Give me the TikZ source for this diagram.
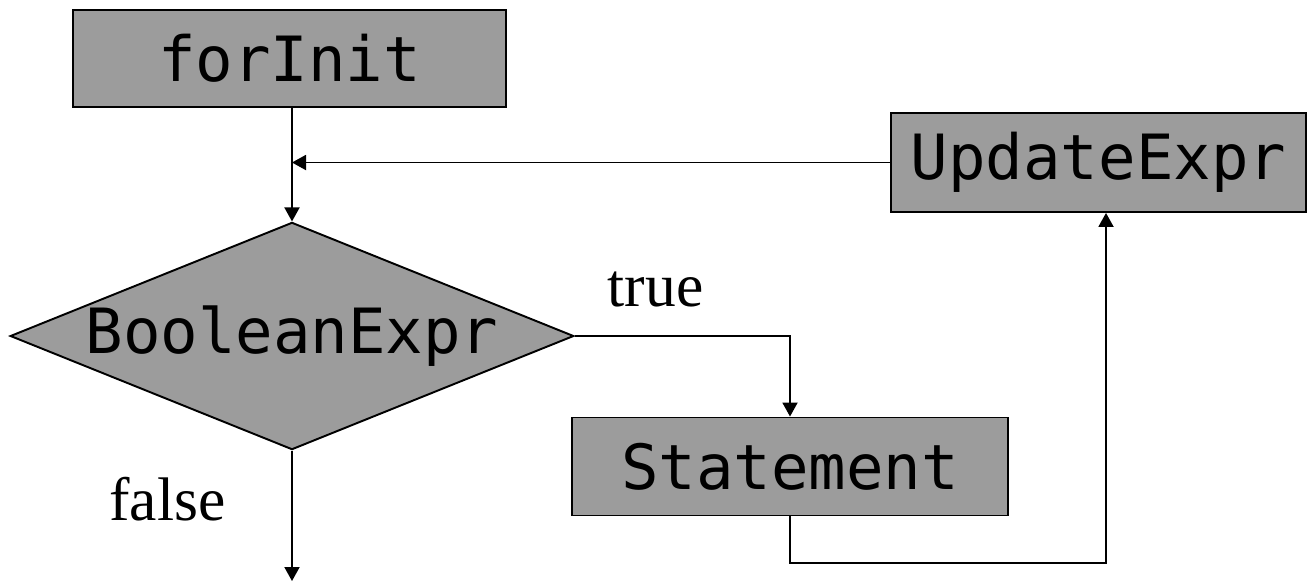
\documentclass[tikz,border=0pt]{standalone}
\usepackage{fontspec}
\setmainfont{Liberation Serif}
\setmonofont{DejaVu Sans Mono}
\usetikzlibrary{shapes.geometric,arrows.meta}
\definecolor{boxgray}{HTML}{9C9C9C}

\begin{document}
\begin{tikzpicture}[x=0.02cm, y=-0.02cm, line width=1.1pt,
  block/.style={draw, fill=boxgray, font=\fontsize{35.5}{40}\selectfont\ttfamily, inner sep=0pt},
  decision/.style={block, diamond, aspect=2.48, inner sep=0pt},
  flow/.style={-{Triangle[length=0.28cm,width=0.3cm]}},
  lbl/.style={font=\fontsize{35}{40}\selectfont, anchor=base}]
  \useasboundingbox (0,0) rectangle (1308,583);
  % boxes of the for loop
  \node[block, minimum width=8.66cm, minimum height=1.94cm] (init) at (289.5,58.5) {forInit};
  \node[block, minimum width=8.3cm, minimum height=1.98cm] (upd) at (1098.5,162.5) {UpdateExpr};
  \node[decision] (cond) at (292,336) {BooleanExpr};
  \node[block, minimum width=8.72cm, minimum height=1.96cm] (stm) at (790,466.5) {Statement};
  \node[lbl] (truelbl) at (655.5,306.7) {true};
  \node[lbl] (falselbl) at (167.5,520) {false};
  \coordinate (ret) at (1106,563);
  \coordinate (out) at (292,581);
  % control flow
  \draw[flow] (init.south -| cond.north) -- (cond.north);
  \draw[flow] (upd.west) -- (upd.west -| cond.north);
  \draw[flow] (cond.east) -| (stm.north);
  \draw[flow] (cond.south) -- (out);
  \draw[flow] (stm.south) |- (ret) -- (ret |- upd.south);
\end{tikzpicture}
\end{document}
